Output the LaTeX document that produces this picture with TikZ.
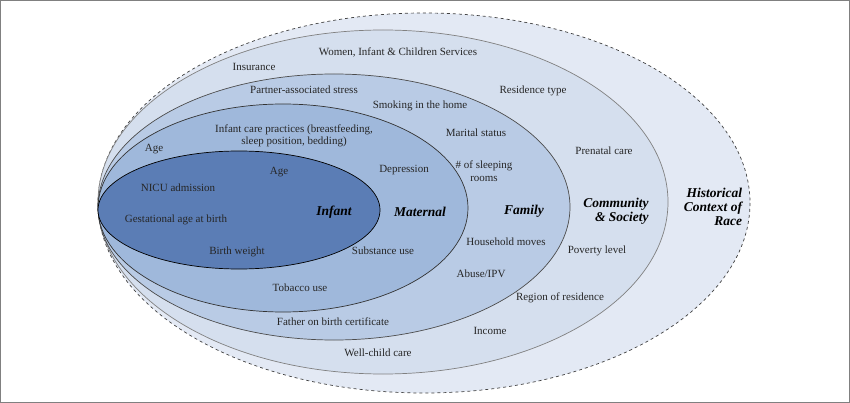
\documentclass[tikz,border=0pt]{standalone}
\usepackage{fontspec}
\setmainfont{Liberation Serif}
\begin{document}
\begin{tikzpicture}[x=1pt,y=-1pt,
  lbl/.style={font=\fontsize{11}{12.5}\selectfont, text=black!85, inner sep=0pt},
  ttl/.style={font=\fontsize{13.5}{14}\selectfont\bfseries\itshape, inner sep=0pt}]
\definecolor{cOut}{HTML}{E3E9F4}
\definecolor{cCom}{HTML}{D5DFEE}
\definecolor{cFam}{HTML}{B9CBE5}
\definecolor{cMat}{HTML}{9FB8DB}
\definecolor{cInf}{HTML}{5B7DB5}
\useasboundingbox (0,0) rectangle (850,403);
\draw[draw=gray, line width=1pt] (0.5,0.5) rectangle (849.5,402.5);
\draw[fill=cOut, dashed, draw=black!75, line width=0.7pt] (424,203) ellipse [x radius=326, y radius=190];
\draw[fill=cCom, draw=gray, line width=0.7pt] (383,202) ellipse [x radius=285, y radius=172];
\draw[fill=cFam, draw=black!70, line width=0.7pt] (334,207) ellipse [x radius=236, y radius=133];
\draw[fill=cMat, draw=black!80, line width=0.7pt] (283,208) ellipse [x radius=185, y radius=104];
\draw[fill=cInf, draw=black, line width=0.7pt] (239,210) ellipse [x radius=141, y radius=59];
% titles
\node[ttl] (tInf) at (334,212) {Infant};
\node[ttl] (tMat) at (420,212) {Maternal};
\node[ttl] (tFam) at (524,211) {Family};
\node[ttl, align=right] (tCom) at (616,211) {Community\\\& Society};
\node[ttl, align=right] (tHis) at (713,207) {Historical\\Context of\\Race};
% infant
\node[lbl] (a1) at (178,188) {NICU admission};
\node[lbl] (a2) at (176,220) {Gestational age at birth};
\node[lbl] (a3) at (237,252) {Birth weight};
% maternal
\node[lbl] (b0) at (154,149) {Age};
\node[lbl] (b1) at (279,172) {Age};
\node[lbl, align=center] (b2) at (294,136) {Infant care practices (breastfeeding,\\sleep position, bedding)};
\node[lbl] (b3) at (404,170) {Depression};
\node[lbl] (b4) at (383,251) {Substance use};
\node[lbl] (b5) at (300,288) {Tobacco use};
% family
\node[lbl] (c1) at (304,90) {Partner-associated stress};
\node[lbl] (c2) at (420,106) {Smoking in the home};
\node[lbl] (c3) at (476,133) {Marital status};
\node[lbl, align=center] (c4) at (484,171) {\# of sleeping\\rooms};
\node[lbl] (c5) at (506,242) {Household moves};
\node[lbl] (c6) at (481,274) {Abuse/IPV};
\node[lbl] (c7) at (333,322) {Father on birth certificate};
% community
\node[lbl] (d1) at (254,67) {Insurance};
\node[lbl] (d2) at (398,52) {Women, Infant \& Children Services};
\node[lbl] (d3) at (533,91) {Residence type};
\node[lbl] (d4) at (604,151) {Prenatal care};
\node[lbl] (d5) at (597,251) {Poverty level};
\node[lbl] (d6) at (560,298) {Region of residence};
\node[lbl] (d7) at (490,331) {Income};
\node[lbl] (d8) at (378,353) {Well-child care};
\end{tikzpicture}
\end{document}
